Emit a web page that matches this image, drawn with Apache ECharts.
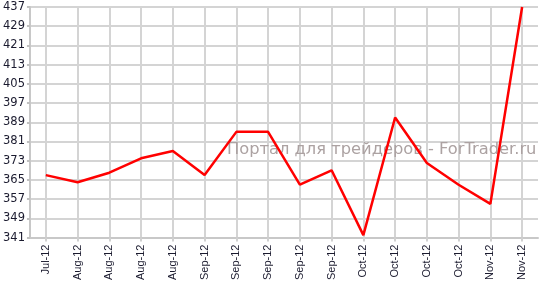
<!DOCTYPE html>
<html>
<head>
<meta charset="utf-8">
<script src="https://cdn.jsdelivr.net/npm/echarts@6/dist/echarts.min.js"></script>
<style>
html,body{margin:0;padding:0;background:#fff;}
#c{width:542px;height:283px;}
</style>
</head>
<body>
<div id="c"></div>
<script>
var categories = ['Jul-12','Aug-12','Aug-12','Aug-12','Aug-12','Sep-12','Sep-12','Sep-12','Sep-12','Sep-12','Oct-12','Oct-12','Oct-12','Oct-12','Nov-12','Nov-12'];
var values = [367, 364, 368, 374, 377, 367, 385, 385, 363, 369, 342, 391, 372, 363, 355, 437];
var yMin = 341, yMax = 437, yStep = 8;
var watermark = 'Портал для трейдеров - ForTrader.ru';

var chart = echarts.init(document.getElementById('c'), null, {renderer:'canvas'});
chart.setOption({
  animation: false,
  backgroundColor: '#ffffff',
  grid: {left: 28, right: 4, top: 7, bottom: 42, containLabel: false},
  graphic: [{
    type: 'text', left: 227, top: 142, z: 1, silent: true,
    style: {text: watermark, fill: '#aca2a2', font: '16.3px "DejaVu Sans"'}
  }],
  xAxis: {
    type: 'category',
    data: categories,
    boundaryGap: true,
    axisLine: {show: true, lineStyle: {color: '#c8c8c8', width: 2}},
    axisTick: {show: true, alignWithLabel: true, length: 4, lineStyle: {color: '#d0d0d0', width: 2}},
    splitLine: {show: true, alignWithLabel: true, lineStyle: {color: '#d4d4d4', width: 2}},
    axisLabel: {rotate: 90, margin: 7, color: '#1a1a2e', fontSize: 11, fontFamily: '"Liberation Sans", Arial, sans-serif', interval: 0}
  },
  yAxis: {
    type: 'value',
    min: yMin, max: yMax, interval: yStep,
    axisLine: {show: true, lineStyle: {color: '#c8c8c8', width: 2}},
    axisTick: {show: true, length: 3, lineStyle: {color: '#c0c0c0', width: 2}},
    splitLine: {show: true, lineStyle: {color: '#d4d4d4', width: 2}},
    axisLabel: {margin: 5, color: '#1a1a2e', fontSize: 11.5, fontFamily: '"DejaVu Sans", Verdana, sans-serif'}
  },
  series: [{
    type: 'line',
    data: values,
    symbol: 'none',
    z: 3,
    lineStyle: {color: '#ff0000', width: 2.5},
    clip: false
  }]
});
</script>
</body>
</html>
